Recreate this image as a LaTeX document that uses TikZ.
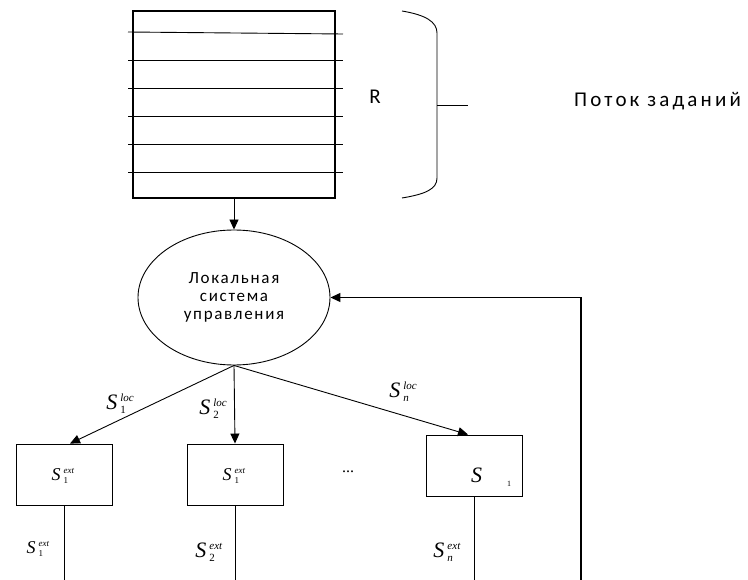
\documentclass[tikz,border=0pt]{standalone}
\usepackage{fontspec}
\setmainfont{Liberation Serif}
\newfontfamily\carfont[LetterSpace=15]{Carlito}
\newfontfamily\carfontb[LetterSpace=10]{Carlito}
\newfontfamily\tnr{Liberation Serif}
\usetikzlibrary{arrows.meta,shapes.geometric,calc}
% #1 script size, #2 raise of sup, #3 sup, #4 sub
\newcommand\Slab[4]{\textit{S}\hspace{3pt}\rlap{\raisebox{-0.18em}{\fontsize{#1}{#1}\selectfont #4}}\raisebox{#2}{\fontsize{#1}{#1}\selectfont\textit{#3}}}
\begin{document}
\begin{tikzpicture}[x=1pt,y=-1pt,
  ln/.style={line width=0.9pt},
  arr/.style={ln,-{Triangle[length=10pt,width=9pt]}},
  box/.style={draw,line width=0.9pt,minimum width=96pt,minimum height=61pt,inner sep=0pt},
  biglbl/.style={font=\tnr\fontsize{22}{22}\selectfont,inner sep=0pt},
  smlbl/.style={font=\tnr\fontsize{18}{18}\selectfont,inner sep=0pt},
  sans/.style={font=\carfont\fontsize{21}{21}\selectfont,inner sep=0pt}]
\useasboundingbox (0,0) rectangle (748,580);
% queue
\node[draw,line width=2.4pt,minimum width=202pt,minimum height=187pt,inner sep=0pt] (q) at (234,104.5) {};
\draw[ln] (128,32) -- (343,34);
\foreach \yy in {60,88,116,144,172} \draw[ln] (128,\yy) -- (343,\yy);
\node[sans] (R) at (375,97) {R};
% brace
\draw[ln] (402,11) .. controls (426,15) and (437,22) .. (437,33) -- (437,178) .. controls (437,189) and (426,194) .. (402,198);
\coordinate (bt) at (437,105);
\coordinate (bte) at (468,105);
\draw[ln] (bt) -- (bte);
\node[sans,anchor=west] (flow) at (574,101) {Поток заданий};
% ellipse
\node[draw,ellipse,ln,minimum width=192pt,minimum height=135pt,inner sep=0pt,
  font=\carfontb\fontsize{17}{18}\selectfont,align=center] (ls) at (234,297.5) {Локальная\\система\\управления};
\draw[arr] (q.south) -- (ls.north);
% boxes
\node[box] (b1) at (64,474.5) {};
\node[box] (b2) at (235,474.5) {};
\node[box] (b3) at (474,465.5) {};
\draw[arr] (ls.south) -- ($(b1.north)+(6,0)$);
\draw[arr] (ls.south) -- (b2.north);
\draw[arr] (ls.south) -- ($(b3.north)+(-6,0)$);
% box labels
\node[smlbl] (l1) at (63,476) {\Slab{9}{6.5pt}{ext}{1}};
\node[smlbl] (l2) at (234,476) {\Slab{9}{6.5pt}{ext}{1}};
\node[inner sep=0pt] (l3) at (491,477) {{\tnr\fontsize{22}{22}\selectfont\textit{S}}\hspace{25pt}\raisebox{-4pt}{\tnr\fontsize{8}{8}\selectfont 1}};
\node[font=\tnr\fontsize{16}{16}\selectfont,inner sep=0pt] (dots) at (348,472) {...};
% loc labels
\node[biglbl] (k1) at (120,404) {\Slab{11}{8pt}{loc}{1}};
\node[biglbl] (k2) at (213,409) {\Slab{11}{8pt}{loc}{2}};
\node[biglbl] (kn) at (403,392) {\Slab{11}{8pt}{loc}{\textit{n}}};
% down lines
\coordinate (d1) at (64,580);
\coordinate (d2) at (235,580);
\coordinate (d3) at (474,580);
\draw[ln] (b1.south) -- (d1);
\draw[ln] (b2.south) -- (d2);
\draw[ln] (b3.south) -- (d3);
\node[smlbl] (e1) at (38,549) {\Slab{9}{6.5pt}{ext}{1}};
\node[biglbl] (e2) at (209,552) {\Slab{11}{8pt}{ext}{2}};
\node[biglbl] (en) at (447,552) {\Slab{11}{8pt}{ext}{\textit{n}}};
% feedback
\coordinate (fb0) at (581,580);
\coordinate (fb1) at (581,297.5);
\draw[line width=1.3pt,-{Triangle[length=10pt,width=9pt]}] (fb0) -- (fb1) -- (ls.east);
\end{tikzpicture}
\end{document}
